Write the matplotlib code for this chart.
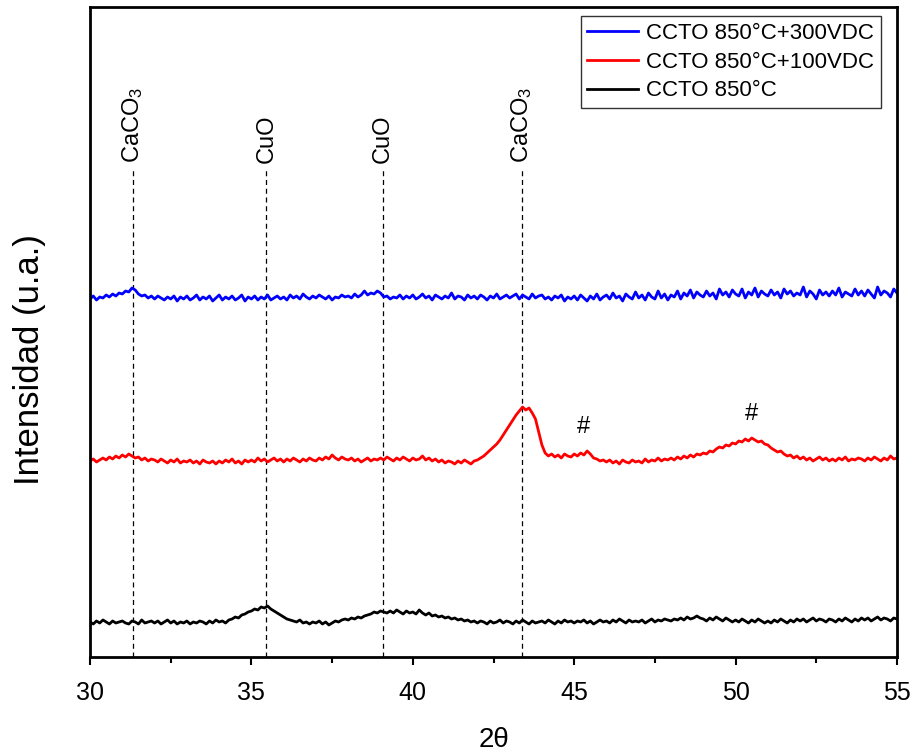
import numpy as np
import matplotlib
matplotlib.use('Agg')
import matplotlib.pyplot as plt

plt.rcParams['font.family'] = ['Liberation Sans', 'DejaVu Sans']
plt.rcParams['mathtext.fontset'] = 'custom'
plt.rcParams['mathtext.rm'] = 'Liberation Sans'
plt.rcParams['mathtext.it'] = 'Liberation Sans'

# 2theta grid, 0.1 deg step
two_theta = np.round(np.arange(30.0, 55.01, 0.1), 1)

# intensities (arbitrary units, offset per trace)
i_300vdc = [
    358, 361, 357, 360, 359, 362, 360, 363, 361, 364,
    363, 366, 365, 369, 367, 363, 361, 362, 359, 361,
    358, 361, 359, 357, 360, 358, 361, 356, 360, 358,
    361, 357, 359, 362, 357, 360, 358, 361, 356, 359,
    362, 357, 360, 358, 361, 357, 359, 362, 356, 360,
    358, 361, 357, 360, 358, 362, 357, 359, 361, 358,
    360, 357, 362, 359, 361, 358, 363, 360, 358, 361,
    359, 362, 360, 358, 361, 357, 360, 359, 362, 360,
    361, 359, 363, 360, 362, 366, 362, 364, 363, 366,
    364, 360, 361, 358, 360, 359, 362, 358, 361, 359,
    362, 358, 360, 363, 359, 361, 357, 362, 360, 358,
    361, 359, 364, 358, 361, 360, 357, 362, 359, 361,
    358, 362, 360, 357, 361, 359, 363, 358, 360, 362,
    359, 361, 363, 358, 362, 360, 358, 363, 359, 361,
    362, 358, 360, 357, 361, 359, 362, 356, 360, 358,
    361, 357, 362, 359, 356, 361, 358, 363, 357, 360,
    362, 358, 364, 359, 361, 356, 363, 360, 358, 365,
    359, 362, 357, 364, 360, 358, 366, 359, 363, 357,
    362, 360, 366, 358, 364, 361, 367, 359, 365, 362,
    360, 366, 361, 364, 358, 368, 362, 365, 360, 367,
    363, 361, 368, 359, 365, 362, 369, 360, 366, 363,
    361, 367, 362, 365, 359, 368, 363, 366, 361, 364,
    362, 370, 360, 366, 363, 358, 367, 362, 365, 361,
    366, 362, 369, 360, 365, 363, 361, 368, 362, 366,
    361, 367, 363, 359, 370, 362, 366, 364, 360, 368,
    364]

i_100vdc = [
    196, 198, 195, 197, 199, 197, 200, 198, 201, 199,
    202, 200, 203, 201, 199, 200, 197, 199, 196, 198,
    197, 195, 198, 196, 194, 197, 195, 198, 194, 196,
    195, 197, 194, 196, 193, 197, 195, 194, 196, 193,
    196, 194, 197, 195, 198, 194, 196, 193, 197, 195,
    197, 195, 199, 196, 198, 195, 197, 199, 196, 198,
    195, 198, 196, 199, 197, 195, 198, 196, 199, 197,
    196, 199, 197, 200, 198, 202, 199, 197, 200, 198,
    197, 199, 196, 198, 195, 197, 199, 196, 198, 197,
    199, 197, 200, 198, 196, 199, 197, 200, 198, 196,
    199, 197, 198, 201, 197, 199, 196, 198, 195, 197,
    194, 196, 195, 193, 196, 194, 197, 195, 193, 196,
    197, 199, 201, 204, 207, 210, 213, 217, 222, 227,
    232, 237, 242, 246, 250, 247, 249, 244, 238, 225,
    212, 204, 201, 203, 200, 202, 199, 203, 201, 200,
    203, 201, 204, 202, 206, 203, 199, 198, 196, 197,
    195, 197, 194, 196, 193, 197, 195, 194, 197, 195,
    196, 194, 198, 195, 197, 196, 199, 196, 198, 197,
    199, 197, 200, 198, 201, 199, 202, 200, 203, 202,
    204, 203, 206, 205, 208, 210, 209, 212, 211, 214,
    213, 216, 215, 218, 216, 219, 217, 215, 216, 213,
    212, 209, 207, 205, 206, 203, 201, 202, 199, 201,
    198, 200, 197, 199, 196, 198, 200, 197, 199, 196,
    198, 196, 199, 197, 200, 196, 198, 197, 199, 198,
    196, 199, 197, 200, 198, 196, 199, 197, 201, 198,
    199]

i_850 = [
    35, 33, 36, 34, 37, 35, 33, 36, 34, 35,
    36, 34, 33, 36, 35, 33, 37, 34, 35, 36,
    34, 36, 33, 35, 37, 34, 36, 33, 35, 34,
    36, 33, 35, 34, 36, 35, 33, 36, 34, 37,
    35, 36, 34, 37, 38, 40, 39, 42, 43, 45,
    46, 48, 47, 50, 49, 51, 48, 46, 44, 42,
    40, 38, 37, 36, 35, 37, 34, 35, 33, 35,
    34, 36, 33, 35, 32, 34, 36, 35, 37, 38,
    37, 39, 38, 40, 39, 41, 42, 43, 45, 44,
    46, 45, 44, 46, 44, 47, 45, 43, 46, 44,
    45, 43, 47, 44, 42, 44, 41, 42, 40, 41,
    39, 40, 38, 39, 37, 38, 36, 37, 35, 36,
    34, 36, 35, 33, 36, 34, 35, 37, 34, 36,
    35, 33, 36, 34, 37, 35, 33, 36, 34, 35,
    36, 34, 37, 35, 33, 36, 34, 37, 35, 36,
    34, 36, 35, 37, 34, 36, 33, 35, 37, 35,
    36, 34, 37, 35, 38, 36, 34, 37, 35, 36,
    35, 37, 34, 36, 38, 35, 37, 36, 38, 37,
    36, 38, 37, 39, 37, 40, 38, 39, 41, 39,
    38, 36, 39, 37, 40, 38, 36, 39, 37, 35,
    37, 35, 38, 36, 34, 37, 35, 38, 36, 34,
    36, 34, 37, 35, 38, 36, 34, 37, 35, 38,
    36, 38, 35, 37, 39, 36, 38, 37, 35, 38,
    37, 35, 38, 36, 39, 37, 35, 38, 36, 39,
    37, 39, 36, 38, 40, 37, 39, 38, 36, 39,
    38]

labels = ['CCTO 850°C+300VDC', 'CCTO 850°C+100VDC', 'CCTO 850°C']

# phase reference lines
phase_pos = [31.32, 35.46, 39.08, 43.38]
phase_names = ['CaCO$_3$', 'CuO', 'CuO', 'CaCO$_3$']
hash_pos = [45.3, 50.5]
hash_y = [219, 232]

fig = plt.figure(figsize=(9.15, 7.53), dpi=100)
ax = fig.add_axes([0.0984, 0.1275, 0.8819, 0.8632])

lw = 2.0
ax.plot(two_theta, i_300vdc, color='#0000ff', lw=lw, label=labels[0])
ax.plot(two_theta, i_100vdc, color='#ff0000', lw=lw, label=labels[1])
ax.plot(two_theta, i_850, color='black', lw=lw, label=labels[2])

for xp, nm in zip(phase_pos, phase_names):
    ax.plot([xp, xp], [0, 489], color='black', lw=0.9, ls=(0, (4, 3)), zorder=1)
    ax.text(xp, 494, nm, rotation=90, ha='center', va='bottom', fontsize=17)

for xp, yp in zip(hash_pos, hash_y):
    ax.text(xp, yp, '#', ha='center', va='bottom', fontsize=17)

ax.set_xlim(30, 55)
ax.set_ylim(0, 650)
ax.set_yticks([])
ax.set_xticks([30, 35, 40, 45, 50, 55])
ax.set_xticks(np.arange(32.5, 55, 5), minor=True)
ax.tick_params(axis='x', which='major', direction='out', length=6, width=1.5,
               labelsize=18, pad=11)
ax.tick_params(axis='x', which='minor', direction='out', length=4, width=1.5)
for s in ax.spines.values():
    s.set_linewidth(2)

ax.set_xlabel('2θ', fontsize=20, labelpad=16)
ax.set_ylabel('Intensidad (u.a.)', fontsize=25)
ax.yaxis.set_label_coords(-0.054, 0.458)

leg = ax.legend(loc='upper right', bbox_to_anchor=(0.980, 0.986),
                fontsize=16, frameon=True, fancybox=False,
                edgecolor='black', handlelength=2.3, labelspacing=0.35,
                borderpad=0.3, handletextpad=0.35, borderaxespad=0)
leg.get_frame().set_linewidth(1)

plt.savefig('out.png', dpi=100)
